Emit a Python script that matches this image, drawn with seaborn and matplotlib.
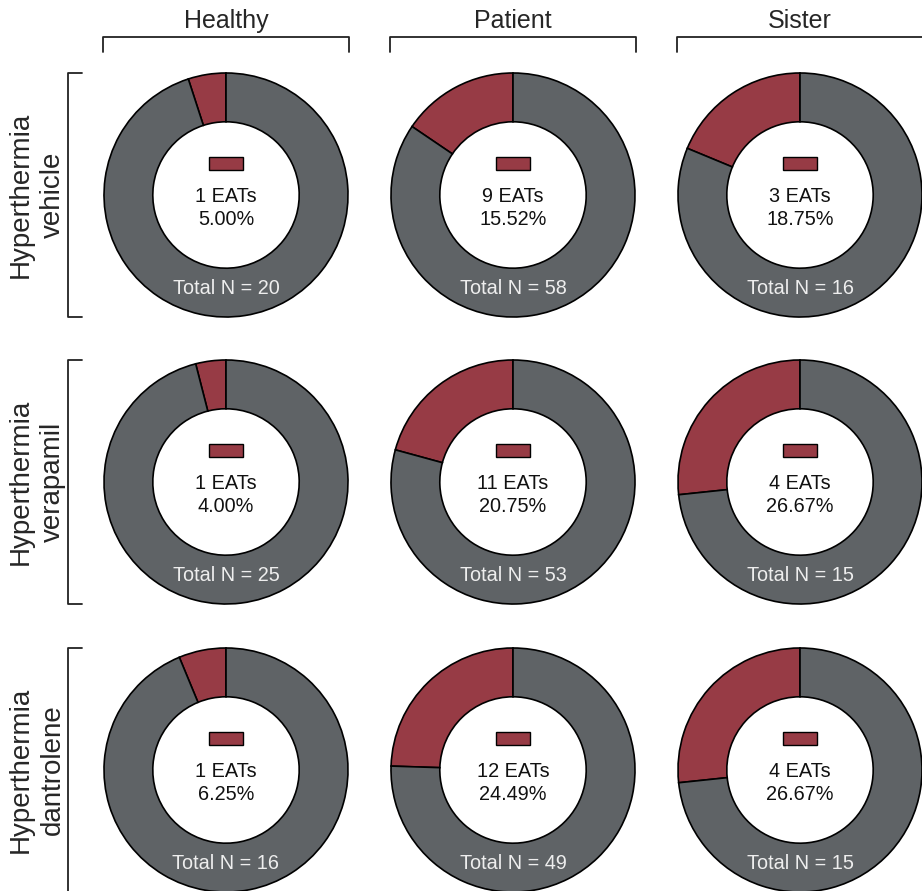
import numpy as np
import matplotlib
matplotlib.use("Agg")
import matplotlib.pyplot as plt
from matplotlib.patches import Rectangle
from matplotlib.lines import Line2D
import seaborn as sns

# ---- data ----
groups = ["Healthy", "Patient", "Sister"]
treatments = ["Hyperthermia\nvehicle", "Hyperthermia\nverapamil", "Hyperthermia\ndantrolene"]
eats = [[1, 9, 3],
        [1, 11, 4],
        [1, 12, 4]]
totals = [[20, 58, 16],
          [25, 53, 15],
          [16, 49, 15]]

# ---- style ----
sns.set_theme(style="white")
plt.rcParams["font.family"] = ["Liberation Sans", "DejaVu Sans"]
RED = "#973b45"
GRAY = "#5f6366"

W, H = 922, 891
fig = plt.figure(figsize=(W / 100, H / 100), dpi=100)
fig.patch.set_facecolor("white")

R = 122.0
col_x = [226, 513, 800]
row_y = [195, 482, 770]

def fx(px):
    return px / W

def fy(py):
    return 1 - py / H

for i, tr in enumerate(treatments):
    for j, g in enumerate(groups):
        cx, cy = col_x[j], row_y[i]
        ax = fig.add_axes([fx(cx - R), fy(cy + R), 2 * R / W, 2 * R / H])
        n_e = eats[i][j]
        n_t = totals[i][j]
        wedges, _ = ax.pie([n_e, n_t - n_e], colors=[RED, GRAY], startangle=90,
                           counterclock=True, radius=1.0,
                           wedgeprops=dict(width=0.4, edgecolor="black", linewidth=1.2))
        for w in wedges:
            w.set_clip_on(False)
        ax.set_xlim(-1, 1)
        ax.set_ylim(-1, 1)
        ax.set_axis_off()
        # legend swatch
        rw, rh = 34 / R, 13 / R
        ax.add_patch(Rectangle((-rw / 2, 32 / R - rh / 2), rw, rh, facecolor=RED,
                               edgecolor="black", linewidth=1.0, clip_on=False))
        ax.text(0, -7 / R, f"{n_e} EATs", ha="center", va="baseline", fontsize=14.3, color="#111111")
        ax.text(0, -30 / R, f"{100 * n_e / n_t:.2f}%", ha="center", va="baseline", fontsize=14.3, color="#111111")
        ax.text(0, -99 / R, f"Total N = {n_t}", ha="center", va="baseline", fontsize=14.3, color="#eeeeee")

# column headers with brackets
for j, g in enumerate(groups):
    cx = col_x[j]
    fig.text(fx(cx), fy(28), g, ha="center", va="baseline", fontsize=18)
    xs = [cx - R - 1, cx - R - 1, cx + R + 1, cx + R + 1]
    ys = [52, 37, 37, 52]
    fig.add_artist(Line2D([fx(x) for x in xs], [fy(y) for y in ys], color="#222222",
                          linewidth=1.3, transform=fig.transFigure))

# row labels with brackets
for i, tr in enumerate(treatments):
    cy = row_y[i]
    fig.text(fx(37), fy(cy), tr, ha="center", va="center", rotation=90,
             fontsize=20, linespacing=1.3)
    xs = [82, 68, 68, 82]
    ys = [cy - R, cy - R, cy + R, cy + R]
    fig.add_artist(Line2D([fx(x) for x in xs], [fy(y) for y in ys], color="#222222",
                          linewidth=1.3, transform=fig.transFigure))

fig.savefig("out.png", dpi=100, facecolor="white")
